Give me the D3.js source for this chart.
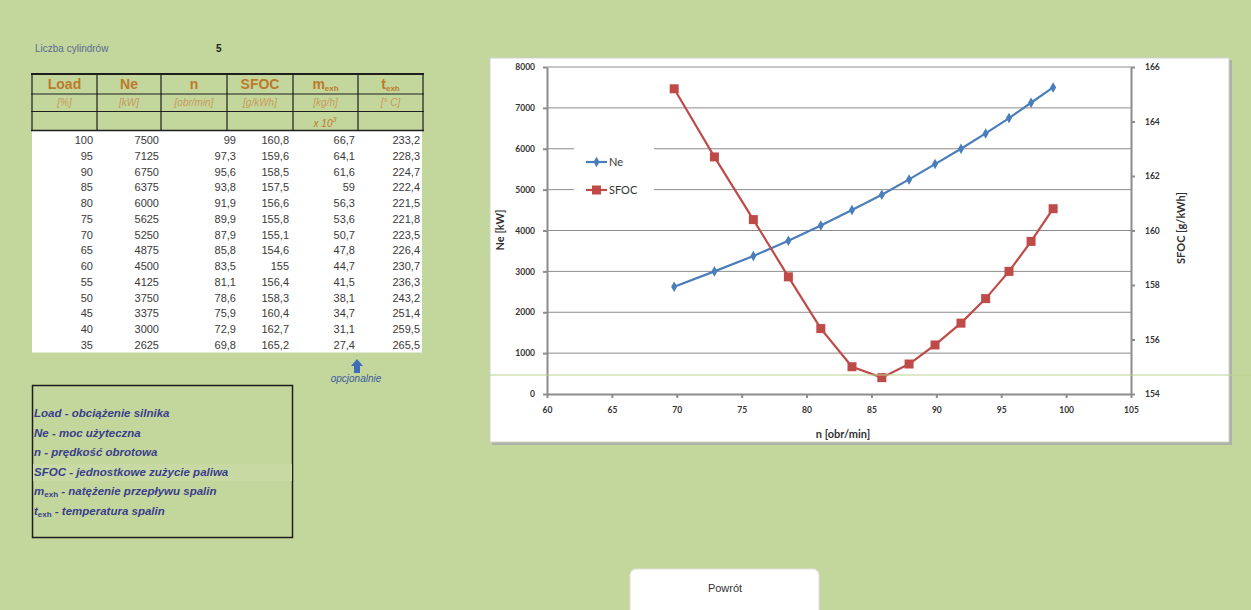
<!DOCTYPE html>
<html><head><meta charset="utf-8">
<script src="https://cdn.jsdelivr.net/npm/d3@7"></script>
<style>
html,body{margin:0;padding:0;background:#c3d69b;}
svg{display:block;}
</style></head>
<body>
<svg id="root" width="1251" height="610"></svg>
<script>
// ---------- data ----------
const loads = [100,95,90,85,80,75,70,65,60,55,50,45,40,35];
const neVals = [7500,7125,6750,6375,6000,5625,5250,4875,4500,4125,3750,3375,3000,2625];
const nVals = [99,97.3,95.6,93.8,91.9,89.9,87.9,85.8,83.5,81.1,78.6,75.9,72.9,69.8];
const sfocVals = [160.8,159.6,158.5,157.5,156.6,155.8,155.1,154.6,155,156.4,158.3,160.4,162.7,165.2];
const mexhVals = [66.7,64.1,61.6,59,56.3,53.6,50.7,47.8,44.7,41.5,38.1,34.7,31.1,27.4];
const texhVals = [233.2,228.3,224.7,222.4,221.5,221.8,223.5,226.4,230.7,236.3,243.2,251.4,259.5,265.5];
const xTicks = [60,65,70,75,80,85,90,95,100,105];
const neTicks = [0,1000,2000,3000,4000,5000,6000,7000,8000];
const sfocTicks = [154,156,158,160,162,164,166];
const seriesNames = ["Ne","SFOC"];

const svg = d3.select("#root");
const fmt = v => String(v).replace(".", ",");

// ---------- top label ----------
svg.append("text").attr("x",35).attr("y",52).attr("font-family","Liberation Sans")
  .attr("font-size",10).attr("fill","#5d6b96").text("Liczba cylindrów");
svg.append("text").attr("x",216).attr("y",52).attr("font-family","Liberation Sans")
  .attr("font-size",10).attr("font-weight","bold").attr("fill","#222").text("5");

// ---------- table ----------
const colX = [32,97,161,227,293,358,423];
const hdrY = [74,94,111.5,130.5];
const orange = "#bd7a2c";
svg.append("rect").attr("x",32).attr("y",130.5).attr("width",390).attr("height",222).attr("fill","#fff");
const tg = svg.append("g").attr("stroke","#1e1e1e").attr("fill","none");
tg.append("line").attr("x1",31).attr("x2",424).attr("y1",hdrY[0]).attr("y2",hdrY[0]).attr("stroke-width",2);
tg.append("line").attr("x1",31).attr("x2",424).attr("y1",hdrY[1]).attr("y2",hdrY[1]).attr("stroke-width",1.2);
tg.append("line").attr("x1",31).attr("x2",424).attr("y1",hdrY[2]).attr("y2",hdrY[2]).attr("stroke-width",1.2);
tg.append("line").attr("x1",31).attr("x2",424).attr("y1",hdrY[3]).attr("y2",hdrY[3]).attr("stroke-width",1.6);
colX.forEach(x=>{
  tg.append("line").attr("x1",x).attr("x2",x).attr("y1",hdrY[0]).attr("y2",hdrY[3]).attr("stroke-width",1.2);
});
const hdrs = [["Load"],["Ne"],["n"],["SFOC"],["m","exh"],["t","exh"]];
const units = ["[%]","[kW]","[obr/min]","[g/kWh]","[kg/h]","[° C]"];
hdrs.forEach((h,i)=>{
  const cx = (colX[i]+colX[i+1])/2;
  const t = svg.append("text").attr("x",cx).attr("y",89).attr("text-anchor","middle")
    .attr("font-family","Liberation Sans").attr("font-weight","bold").attr("font-size",14).attr("fill",orange);
  t.append("tspan").text(h[0]);
  if(h[1]) t.append("tspan").attr("font-size",8).attr("dy",2).text(h[1]);
  svg.append("text").attr("x",cx).attr("y",106).attr("text-anchor","middle")
    .attr("font-family","Liberation Sans").attr("font-style","italic").attr("font-size",10)
    .attr("fill","#c99a5e").text(units[i]);
});
const x10 = svg.append("text").attr("x",325).attr("y",127).attr("text-anchor","middle")
  .attr("font-family","Liberation Sans").attr("font-style","italic").attr("font-size",10).attr("fill",orange);
x10.append("tspan").text("x 10");
x10.append("tspan").attr("font-size",7).attr("dy",-5).text("3");

const colsData = [loads,neVals,nVals,sfocVals,mexhVals,texhVals];
const colRight = [93,159,236,289,355,420];
const rowY = d3.scaleLinear().domain([0,13]).range([144,349]);
colsData.forEach((arr,ci)=>{
  svg.append("g").selectAll("text").data(arr).join("text")
    .attr("x",colRight[ci]).attr("y",(d,i)=>rowY(i)).attr("text-anchor","end")
    .attr("font-family","Liberation Sans").attr("font-size",11).attr("fill","#3a3a3a")
    .text(d=>fmt(d));
});

// opcjonalnie arrow
svg.append("path").attr("d","M357,359 L363,366 L360,366 L360,373 L354,373 L354,366 L351,366 Z").attr("fill","#3e6db5");
svg.append("text").attr("x",356).attr("y",382).attr("text-anchor","middle")
  .attr("font-family","Liberation Sans").attr("font-style","italic").attr("font-size",10).attr("fill","#3d5a9e").text("opcjonalnie");

// ---------- description box ----------
svg.append("rect").attr("x",32.5).attr("y",385.5).attr("width",260).attr("height",152)
  .attr("fill","none").attr("stroke","#1e1e1e").attr("stroke-width",1.5);
svg.append("rect").attr("x",33).attr("y",464).attr("width",259).attr("height",17).attr("fill","#c8d9a3");
const desc = [
  [["Load - obciążenie silnika"]],
  [["Ne - moc użyteczna"]],
  [["n - prędkość obrotowa"]],
  [["SFOC - jednostkowe zużycie paliwa"]],
  [["m"],["exh",1],[" - natężenie przepływu spalin"]],
  [["t"],["exh",1],[" - temperatura spalin"]]
];
const descY = [417,436.5,456,475.5,495,514.5];
desc.forEach((parts,i)=>{
  const t = svg.append("text").attr("x",34).attr("y",descY[i])
    .attr("font-family","Liberation Sans").attr("font-style","italic").attr("font-weight","bold")
    .attr("font-size",11.5).attr("fill","#3b3e8c");
  let shifted=false;
  parts.forEach(p=>{
    const s = t.append("tspan").text(p[0]);
    if(p[1]){ s.attr("font-size",8).attr("dy",2).attr("font-style","normal"); shifted=true; }
    else if(shifted){ s.attr("dy",-2); shifted=false; }
  });
});

// ---------- chart ----------
svg.append("rect").attr("x",492).attr("y",60).attr("width",740).attr("height",385).attr("fill","#a9a9a9").attr("opacity",0.8);
svg.append("rect").attr("x",490).attr("y",58).attr("width",739).attr("height",384).attr("fill","#fff").attr("stroke","#d0d0d0");

const m = {l:547, r:1131, t:67, b:394};
const x = d3.scaleLinear().domain([60,105]).range([m.l,m.r]);
const yL = d3.scaleLinear().domain([0,8000]).range([m.b,m.t]);
const yR = d3.scaleLinear().domain([154,166]).range([m.b,m.t]);

svg.append("g").selectAll("line").data(neTicks.filter(d=>d>0)).join("line")
  .attr("x1",m.l).attr("x2",m.r).attr("y1",d=>yL(d)).attr("y2",d=>yL(d))
  .attr("stroke","#8c8c8c").attr("stroke-width",1);

const tickFont = g => g.selectAll("text").attr("font-family","Lato").attr("font-size",8.5)
  .attr("font-weight","bold").attr("fill","#333");
const axisStyle = g => { g.selectAll("path,line").attr("stroke","#8c8c8c").attr("stroke-width",2); };
const plain = d3.format("d");

svg.append("g").attr("transform",`translate(0,${m.b})`)
  .call(d3.axisBottom(x).tickValues(xTicks).tickFormat(plain).tickSize(4).tickPadding(9).tickSizeOuter(0))
  .call(axisStyle).call(tickFont);
svg.append("g").attr("transform",`translate(${m.l},0)`)
  .call(d3.axisLeft(yL).tickValues(neTicks).tickFormat(plain).tickSize(4).tickPadding(8).tickSizeOuter(0))
  .call(axisStyle).call(tickFont);
svg.append("g").attr("transform",`translate(${m.r},0)`)
  .call(d3.axisRight(yR).tickValues(sfocTicks).tickFormat(plain).tickSize(4).tickPadding(10).tickSizeOuter(0))
  .call(axisStyle).call(tickFont);

svg.append("text").attr("transform","translate(504,230) rotate(-90)").attr("text-anchor","middle")
  .attr("font-family","Lato").attr("font-weight","bold").attr("font-size",11).attr("fill","#333").text("Ne [kW]");
svg.append("text").attr("transform","translate(1185,228) rotate(-90)").attr("text-anchor","middle")
  .attr("font-family","Lato").attr("font-weight","bold").attr("font-size",11).attr("fill","#333").text("SFOC [g/kWh]");
svg.append("text").attr("x",843).attr("y",438).attr("text-anchor","middle")
  .attr("font-family","Lato").attr("font-weight","bold").attr("font-size",11).attr("fill","#333").text("n [obr/min]");

svg.append("rect").attr("x",574).attr("y",145).attr("width",80).attr("height",58).attr("fill","#fff");

const blue = "#4a7ebb", red = "#be4b48";
const neData = nVals.map((n,i)=>({x:n,y:neVals[i]}));
const sfData = nVals.map((n,i)=>({x:n,y:sfocVals[i]}));

svg.append("path").datum(neData).attr("fill","none").attr("stroke",blue).attr("stroke-width",2.2)
  .attr("d",d3.line().x(d=>x(d.x)).y(d=>yL(d.y)));
svg.append("g").selectAll("path").data(neData).join("path")
  .attr("transform",d=>`translate(${x(d.x)},${yL(d.y)})`)
  .attr("d",d3.symbol(d3.symbolDiamond,32)).attr("fill",blue);

svg.append("path").datum(sfData).attr("fill","none").attr("stroke",red).attr("stroke-width",2.2)
  .attr("d",d3.line().x(d=>x(d.x)).y(d=>yR(d.y)));
svg.append("g").selectAll("rect").data(sfData).join("rect")
  .attr("x",d=>x(d.x)-4.5).attr("y",d=>yR(d.y)-4.5).attr("width",9).attr("height",9).attr("fill",red);

const lg = svg.append("g");
seriesNames.forEach((s,i)=>{
  const ly = 162 + i*28;
  const c = i===0?blue:red;
  lg.append("line").attr("x1",586).attr("x2",607).attr("y1",ly).attr("y2",ly).attr("stroke",c).attr("stroke-width",2.2);
  if(i===0) lg.append("path").attr("transform",`translate(596.5,${ly})`).attr("d",d3.symbol(d3.symbolDiamond,32)).attr("fill",c);
  else lg.append("rect").attr("x",592).attr("y",ly-4.5).attr("width",9).attr("height",9).attr("fill",c);
  lg.append("text").attr("x",609).attr("y",ly+4).attr("font-family","Lato").attr("font-size",11)
    .attr("fill","#333").text(s);
});

svg.append("line").attr("x1",490).attr("x2",1251).attr("y1",375).attr("y2",375)
  .attr("stroke","#b9d38f").attr("stroke-width",1.2);

// ---------- button ----------
svg.append("rect").attr("x",630).attr("y",569).attr("width",189).attr("height",50).attr("rx",6)
  .attr("fill","#fff").attr("stroke","#e0e0e0");
svg.append("text").attr("x",725).attr("y",592).attr("text-anchor","middle")
  .attr("font-family","Liberation Sans").attr("font-size",11).attr("fill","#333").text("Powrót");
</script>
</body></html>
